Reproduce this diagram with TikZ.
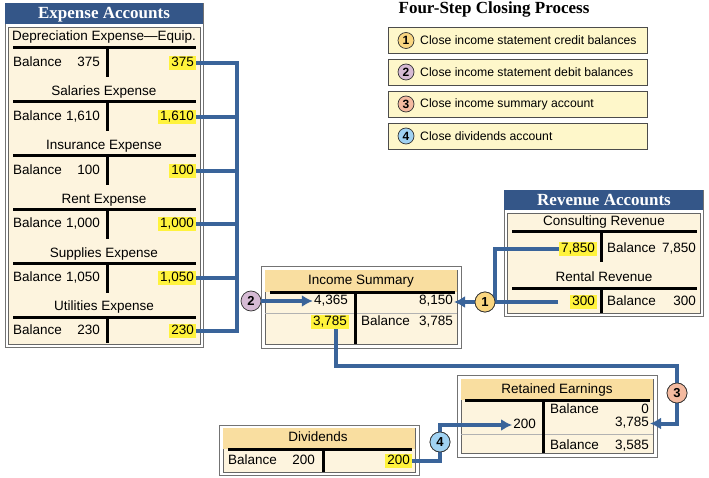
\documentclass[tikz,border=0pt]{standalone}
\usepackage{fontspec}
\setmainfont{Liberation Sans}
\newfontfamily\headfont{Liberation Serif}
\usetikzlibrary{arrows.meta}

\definecolor{panelblue}{RGB}{52,86,136}
\definecolor{cream}{RGB}{253,244,222}
\definecolor{tan}{RGB}{249,222,160}
\definecolor{hlyellow}{RGB}{255,243,60}
\definecolor{flowblue}{RGB}{58,100,154}
\definecolor{stepfill}{RGB}{254,247,202}
\definecolor{stepone}{RGB}{250,214,128}
\definecolor{steptwo}{RGB}{214,186,212}
\definecolor{stepthree}{RGB}{244,186,160}
\definecolor{stepfour}{RGB}{160,210,242}

\tikzstyle{flow} = [draw=flowblue, line width=4pt]
\tikzstyle{dflow} = [flow, -{Latex[length=11pt,width=12pt]}]
\tikzstyle{tbar} = [draw=black, line width=3pt]
\tikzstyle{sepline} = [draw=black!30, line width=0.6pt]
\tikzstyle{txt} = [
  font=\fontsize{13.5}{14}\selectfont,
  inner sep=1pt,
  text height=9.5pt,
  text depth=2.7pt,
]
\tikzstyle{amount} = [txt, anchor=east]
\tikzstyle{bal} = [txt, anchor=west]
\tikzstyle{hl} = [
  txt,
  anchor=east,
  fill=hlyellow,
  inner xsep=2pt,
]
\tikzstyle{panel} = [draw=black!55, fill=white, line width=0.5pt]
\tikzstyle{body} = [draw=black!60, fill=cream, line width=0.5pt]
\tikzstyle{head} = [
  font=\headfont\bfseries\fontsize{17}{17}\selectfont,
  anchor=base,
]
\tikzstyle{stepbox} = [
  draw=black!70,
  fill=stepfill,
  line width=0.6pt,
  minimum width=259pt,
  minimum height=26pt,
  anchor=west,
]
\tikzstyle{steptext} = [font=\fontsize{12.2}{13}\selectfont, anchor=west, inner sep=0pt]
\tikzstyle{num} = [
  circle,
  draw=black!80,
  line width=0.7pt,
  inner sep=0pt,
  minimum size=20pt,
  font=\bfseries\fontsize{13}{13}\selectfont,
]
\tikzstyle{smallnum} = [num, minimum size=16pt, font=\bfseries\fontsize{12}{12}\selectfont]

\begin{document}
\begin{tikzpicture}[x=1pt, y=-1pt]
  \useasboundingbox (0,0) rectangle (709,478);

  % expense accounts
  \draw[panel] (5,3) rectangle (203,347);
  \fill[panelblue] (5,3) rectangle (203,24);
  \node[head, text=white] (exphead) at (104,19) {Expense Accounts};
  \draw[body] (8,27) rectangle (200,344);

  \node[txt] (deptitle) at (104,37) {Depreciation Expense—Equip.};
  \draw[tbar] (13,48) -- (196,48);
  \draw[tbar] (107,48) -- (107,77);
  \node[bal] (depbal) at (12,63) {Balance};
  \node[amount] (depleft) at (101,63) {375};
  \node[hl] (dep) at (196,63) {375};

  \node[txt] (saltitle) at (104,92) {Salaries Expense};
  \draw[tbar] (13,102) -- (196,102);
  \draw[tbar] (107,102) -- (107,131);
  \node[bal] (salbal) at (12,117) {Balance};
  \node[amount] (salleft) at (101,117) {1,610};
  \node[hl] (sal) at (196,117) {1,610};

  \node[txt] (institle) at (104,146) {Insurance Expense};
  \draw[tbar] (13,156) -- (196,156);
  \draw[tbar] (107,156) -- (107,185);
  \node[bal] (insbal) at (12,171) {Balance};
  \node[amount] (insleft) at (101,171) {100};
  \node[hl] (ins) at (196,171) {100};

  \node[txt] (renttitle) at (104,200) {Rent Expense};
  \draw[tbar] (13,210) -- (196,210);
  \draw[tbar] (107,210) -- (107,239);
  \node[bal] (rentbal) at (12,224) {Balance};
  \node[amount] (rentleft) at (101,224) {1,000};
  \node[hl] (rent) at (196,224) {1,000};

  \node[txt] (suptitle) at (104,254) {Supplies Expense};
  \draw[tbar] (13,264) -- (196,264);
  \draw[tbar] (107,264) -- (107,293);
  \node[bal] (supbal) at (12,278) {Balance};
  \node[amount] (supleft) at (101,278) {1,050};
  \node[hl] (sup) at (196,278) {1,050};

  \node[txt] (utiltitle) at (104,307) {Utilities Expense};
  \draw[tbar] (13,317) -- (196,317);
  \draw[tbar] (107,317) -- (107,343);
  \node[bal] (utilbal) at (12,331) {Balance};
  \node[amount] (utilleft) at (101,331) {230};
  \node[hl] (util) at (196,331) {230};

  % four steps
  \node[head] (steptitle) at (494,14) {Four-Step Closing Process};
  \node[stepbox] (s1box) at (388,40.5) {};
  \node[stepbox] (s2box) at (388,72) {};
  \node[stepbox] (s3box) at (388,104) {};
  \node[stepbox] (s4box) at (388,136) {};
  \node[smallnum, fill=stepone] (s1) at (406,40.5) {1};
  \node[smallnum, fill=steptwo] (s2) at (406,72) {2};
  \node[smallnum, fill=stepthree] (s3) at (406,104) {3};
  \node[smallnum, fill=stepfour] (s4) at (406,136) {4};
  \node[steptext] (s1text) at ([xshift=14pt] s1.center) {Close income statement credit balances};
  \node[steptext] (s2text) at ([xshift=14pt] s2.center) {Close income statement debit balances};
  \node[steptext] (s3text) at ([xshift=14pt] s3.center) {Close income summary account};
  \node[steptext] (s4text) at ([xshift=14pt] s4.center) {Close dividends account};

  % revenue accounts
  \draw[panel] (504,190) rectangle (703,316);
  \fill[panelblue] (504,190) rectangle (703,210);
  \node[head, text=white] (revhead) at (604,206) {Revenue Accounts};
  \draw[body] (507,213) rectangle (700,313);

  \node[txt] (constitle) at (604,222) {Consulting Revenue};
  \draw[tbar] (512,232) -- (697,232);
  \draw[tbar] (601,232) -- (601,262);
  \node[hl] (consrev) at (597,249) {7,850};
  \node[bal] (consbal) at (606,249) {Balance};
  \node[amount] (consright) at (697,249) {7,850};

  \node[txt] (renttitle2) at (604,278) {Rental Revenue};
  \draw[tbar] (512,288) -- (697,288);
  \draw[tbar] (601,288) -- (601,313);
  \node[hl] (rentrev) at (597,302) {300};
  \node[bal] (rentrevbal) at (606,302) {Balance};
  \node[amount] (rentright) at (697,302) {300};

  % income summary
  \draw[panel] (261,266) rectangle (461,348);
  \draw[body] (265,270) rectangle (457,344);
  \fill[tan] (265.3,270.3) rectangle (456.7,292);
  \node[txt] (istitle) at (361,281) {Income Summary};
  \draw[sepline] (265,313) -- (457,313);
  \draw[tbar] (270,292) -- (455,292);
  \draw[tbar] (355,292) -- (355,344);
  \node[amount] (isdr) at (349,301) {4,365};
  \node[amount] (iscr) at (454,301) {8,150};
  \node[hl] (isbal) at (349,322) {3,785};
  \node[bal] (isbalword) at (360,322) {Balance};
  \node[amount] (isright) at (454,322) {3,785};

  % retained earnings
  \draw[panel] (457,375) rectangle (657,457);
  \draw[body] (461,379) rectangle (653,453);
  \fill[tan] (461.3,379.3) rectangle (652.7,400);
  \node[txt] (retitle) at (557,390) {Retained Earnings};
  \draw[sepline] (461,434) -- (653,434);
  \draw[tbar] (465,400) -- (650,400);
  \draw[tbar] (543,400) -- (543,453);
  \node[bal] (rebal) at (549,410) {Balance};
  \node[amount] (rezero) at (650,410) {0};
  \node[amount] (re3785) at (650,423.5) {3,785};
  \node[amount] (re200) at (537,425) {200};
  \node[bal] (rebal2) at (549,446) {Balance};
  \node[amount] (reend) at (650,446) {3,585};

  % dividends
  \draw[panel] (219,425) rectangle (419,475);
  \draw[body] (223,428) rectangle (415,472);
  \fill[tan] (223.3,428.3) rectangle (414.7,449);
  \node[txt] (divtitle) at (318,438) {Dividends};
  \draw[tbar] (228,449) -- (412,449);
  \draw[tbar] (323,449) -- (323,472);
  \node[bal] (divbal) at (227,461) {Balance};
  \node[amount] (divleft) at (316,461) {200};
  \node[hl] (div) at (412,461) {200};

  % closing flows
  \coordinate (bustop) at (237,63);
  \coordinate (busbot) at (237,331);
  \draw[flow] (dep.east) -- (bustop) -- (busbot) -- (util.east);
  \draw[flow] (sal.east) -- (sal.east -| bustop);
  \draw[flow] (ins.east) -- (ins.east -| bustop);
  \draw[flow] (rent.east) -- (rent.east -| bustop);
  \draw[flow] (sup.east) -- (sup.east -| bustop);
  \node[num, fill=steptwo] (c2) at (251,301) {2};
  \draw[dflow] (c2) -- (isdr.west);

  \coordinate (j1) at (495,302);
  \node[num, fill=stepone] (c1) at (485,302) {1};
  \draw[flow] (consrev.west) -| (j1);
  \draw[flow, shorten <=12pt] (rentrev.west) -- (j1);
  \draw[dflow] (c1) -- (c1 -| iscr.east);
  \node[num, fill=stepone] at (c1) {1};

  \coordinate (turn3) at (677,366);
  \node[num, fill=stepthree] (c3) at (677,393) {3};
  \draw[flow] ([xshift=6pt] isbal.south) |- (turn3) -- (c3);
  \draw[dflow] (c3) |- (re3785.east);
  \node[num, fill=stepthree] at (c3) {3};

  \node[num, fill=stepfour] (c4) at (440,442) {4};
  \draw[flow] (div.east) -| (c4);
  \draw[dflow] (c4) |- (re200.west);
  \node[num, fill=stepfour] at (c4) {4};
\end{tikzpicture}
\end{document}
